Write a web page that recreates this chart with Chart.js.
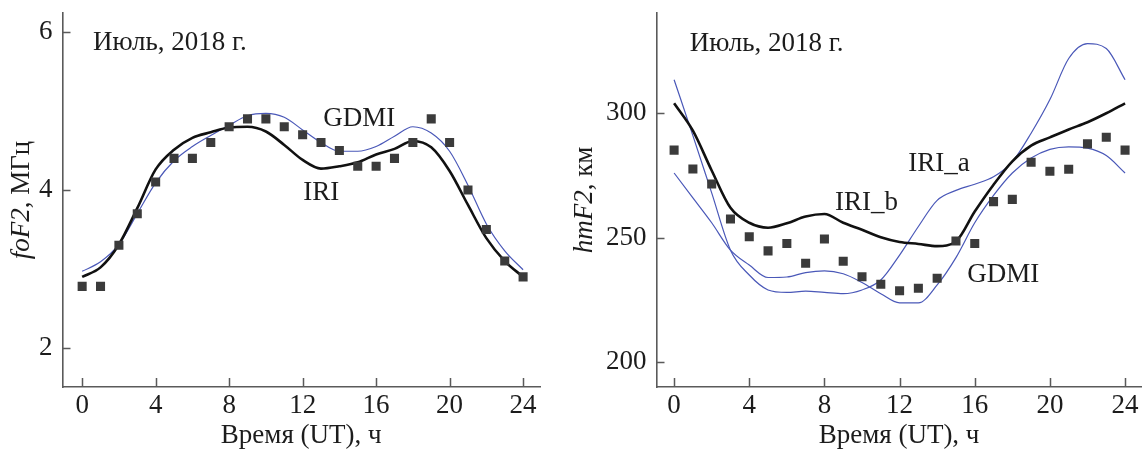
<!DOCTYPE html>
<html lang="ru">
<head>
<meta charset="utf-8">
<title>foF2 и hmF2, июль 2018</title>
<script src="https://cdn.jsdelivr.net/npm/chart.js@4.4.1/dist/chart.umd.min.js"></script>
<style>
    html, body { margin: 0; padding: 0; background: #fff; }
    #wrap { position: relative; width: 1148px; height: 452px; overflow: hidden; }
    canvas { position: absolute; top: 0; }
    #chartFoF2 { left: 0; }
    #chartHmF2 { left: 560px; }
</style>
</head>
<body>
<div id="wrap">
    <canvas id="chartFoF2" width="560" height="452"></canvas>
    <canvas id="chartHmF2" width="588" height="452"></canvas>
</div>
<script>
// Часы UT
const hours = [0, 1, 2, 3, 4, 5, 6, 7, 8, 9, 10, 11, 12, 13, 14, 15, 16, 17, 18, 19, 20, 21, 22, 23, 24];

// foF2, МГц
const foF2Obs = [2.78, 2.78, 3.3, 3.7, 4.1, 4.4, 4.4, 4.6, 4.8, 4.9, 4.9, 4.8, 4.7, 4.6, 4.5, 4.3, 4.3, 4.4, 4.6, 4.9, 4.6, 4.0, 3.5, 3.1, 2.9];
const foF2Iri = [2.90, 3.02, 3.31, 3.77, 4.26, 4.51, 4.66, 4.73, 4.79, 4.80, 4.74, 4.57, 4.38, 4.27, 4.30, 4.35, 4.45, 4.52, 4.62, 4.54, 4.24, 3.81, 3.39, 3.10, 2.90];
const foF2Gdmi = [2.97, 3.09, 3.31, 3.70, 4.09, 4.37, 4.55, 4.69, 4.82, 4.94, 4.97, 4.92, 4.76, 4.60, 4.49, 4.49, 4.55, 4.68, 4.80, 4.72, 4.49, 4.06, 3.57, 3.23, 2.99];

// hmF2, км
const hmF2Obs = [285.2, 277.6, 271.6, 257.5, 250.4, 244.7, 247.7, 239.7, 249.5, 240.5, 234.3, 231.3, 228.7, 229.7, 233.7, 248.7, 247.7, 264.5, 265.4, 280.3, 276.7, 277.5, 287.7, 290.4, 285.2];
const hmF2IriB = [304, 293, 277, 262, 256, 254, 255.8, 258.5, 259.5, 256, 253.2, 250.2, 248.3, 247.5, 246.6, 248.5, 260.5, 271.3, 280.7, 287, 290.3, 293.5, 296.4, 300, 304];
const hmF2IriA = [313.5, 291, 268, 245, 235, 229, 228, 228.5, 228, 227.5, 229, 233, 243, 254.5, 265, 269, 271.5, 274.5, 280.5, 292, 305.5, 322, 328, 326, 313.5];
const hmF2Gdmi = [276, 266, 256, 245, 239, 234, 234.2, 236, 236.7, 235.5, 232, 227.5, 223.8, 223.8, 231, 242, 256, 267, 276, 282, 285.5, 286.5, 286, 283, 276];

// Метки осей
const xTicks = [0, 4, 8, 12, 16, 20, 24];
const foF2Ticks = [2, 4, 6];
const hmF2Ticks = [200, 250, 300];

const FONT = "'Liberation Serif', 'Times New Roman', serif";
const FONT_SIZE = 27;
const TEXT_COLOR = '#1c1c1c';
const AXIS_COLOR = '#5a5a5a';
const BLUE = '#4a58b8';

const toPoints = (values) => values.map((v, i) => ({x: hours[i], y: v}));

// Засечки внутрь, подписи на поле и заголовок оси Y (курсив + прямой шрифт)
const panelText = {
    id: 'panelText',
    afterDraw(chart, args, opts) {
        const {ctx, chartArea, scales: {x, y}} = chart;
        ctx.save();

        ctx.strokeStyle = AXIS_COLOR;
        ctx.lineWidth = 1.5;
        ctx.beginPath();
        x.ticks.forEach(t => {
            const px = Math.round(x.getPixelForValue(t.value)) + 0.5;
            ctx.moveTo(px, chartArea.bottom);
            ctx.lineTo(px, chartArea.bottom - 9);
        });
        y.ticks.forEach(t => {
            const py = Math.round(y.getPixelForValue(t.value)) + 0.5;
            ctx.moveTo(chartArea.left, py);
            ctx.lineTo(chartArea.left + 8, py);
        });
        ctx.stroke();

        ctx.fillStyle = TEXT_COLOR;
        ctx.font = `${FONT_SIZE}px ${FONT}`;
        ctx.textBaseline = 'middle';
        ctx.textAlign = 'left';
        opts.labels.forEach(l => {
            ctx.fillText(l.text, x.getPixelForValue(l.x), y.getPixelForValue(l.y));
        });

        // заголовок оси Y
        ctx.translate(opts.titleX, (chartArea.top + chartArea.bottom) / 2);
        ctx.rotate(-Math.PI / 2);
        ctx.textBaseline = 'alphabetic';
        const parts = opts.yTitle.map(p => {
            ctx.font = `${p.italic ? 'italic ' : ''}${FONT_SIZE}px ${FONT}`;
            return {text: p.text, font: ctx.font, w: ctx.measureText(p.text).width};
        });
        let pos = -parts.reduce((s, p) => s + p.w, 0) / 2;
        parts.forEach(p => {
            ctx.font = p.font;
            ctx.fillText(p.text, pos, 0);
            pos += p.w;
        });
        ctx.restore();
    }
};

function makeChart(canvasId, cfg) {
    const ctx = document.getElementById(canvasId).getContext('2d');
    return new Chart(ctx, {
        type: 'line',
        data: {
            datasets: [
                {
                    data: toPoints(cfg.obs),
                    showLine: false,
                    pointStyle: 'rect',
                    pointRadius: 6.4,
                    borderWidth: 0,
                    backgroundColor: '#3b3b3b'
                },
                ...cfg.lines.map(l => ({
                    data: toPoints(l.values),
                    borderColor: l.color,
                    borderWidth: l.width,
                    pointRadius: 0,
                    cubicInterpolationMode: 'monotone',
                    fill: false
                }))
            ]
        },
        options: {
            responsive: false,
            animation: false,
            devicePixelRatio: 1,
            layout: {padding: {left: 0, right: cfg.padRight, top: 13, bottom: 0}},
            plugins: {
                legend: {display: false},
                tooltip: {enabled: false},
                panelText: {labels: cfg.labels, yTitle: cfg.yTitle, titleX: cfg.titleX}
            },
            scales: {
                x: {
                    type: 'linear',
                    min: cfg.xMin,
                    max: cfg.xMax,
                    afterBuildTicks: (scale) => { scale.ticks = xTicks.map(v => ({value: v})); },
                    afterFit: (scale) => {
                        scale.height = 65;
                        scale.paddingLeft = 0;
                        scale.paddingRight = 0;
                    },
                    grid: {display: false, drawTicks: false},
                    border: {display: true, color: AXIS_COLOR, width: 1.6},
                    ticks: {padding: 3, color: TEXT_COLOR, font: {family: FONT, size: FONT_SIZE}, maxRotation: 0},
                    title: {display: true, text: 'Время (UT), ч', color: TEXT_COLOR,
                        font: {family: FONT, size: FONT_SIZE}, padding: 0}
                },
                y: {
                    min: cfg.yMin,
                    max: cfg.yMax,
                    afterBuildTicks: (scale) => { scale.ticks = cfg.yTicks.map(v => ({value: v})); },
                    afterFit: (scale) => {
                        scale.width = cfg.axisLeft;
                        scale.paddingTop = 0;
                        scale.paddingBottom = 0;
                    },
                    grid: {display: false, drawTicks: false},
                    border: {display: true, color: AXIS_COLOR, width: 1.6},
                    ticks: {padding: 10, color: TEXT_COLOR, font: {family: FONT, size: FONT_SIZE}}
                }
            }
        },
        plugins: [panelText]
    });
}

makeChart('chartFoF2', {
    obs: foF2Obs,
    lines: [
        {values: foF2Iri, color: '#111111', width: 2.6},
        {values: foF2Gdmi, color: BLUE, width: 1.2}
    ],
    xMin: -1.07, xMax: 24.92,
    yMin: 1.506, yMax: 6.24,
    yTicks: foF2Ticks,
    axisLeft: 62.5,
    padRight: 20,
    titleX: 29,
    yTitle: [{text: 'foF2', italic: true}, {text: ', МГц', italic: false}],
    labels: [
        {text: 'Июль, 2018 г.', x: 0.59, y: 5.86},
        {text: 'GDMI', x: 13.12, y: 4.90},
        {text: 'IRI', x: 12.03, y: 3.96}
    ]
});

makeChart('chartHmF2', {
    obs: hmF2Obs,
    lines: [
        {values: hmF2IriB, color: '#111111', width: 2.6},
        {values: hmF2IriA, color: BLUE, width: 1.2},
        {values: hmF2Gdmi, color: BLUE, width: 1.2}
    ],
    xMin: -0.937, xMax: 24.88,
    yMin: 190.0, yMax: 340.3,
    yTicks: hmF2Ticks,
    axisLeft: 96.5,
    padRight: 1,
    titleX: 32,
    yTitle: [{text: 'hmF2', italic: true}, {text: ', км', italic: false}],
    labels: [
        {text: 'Июль, 2018 г.', x: 0.83, y: 327.9},
        {text: 'IRI_a', x: 12.46, y: 279.6},
        {text: 'IRI_b', x: 8.56, y: 263.9},
        {text: 'GDMI', x: 15.6, y: 235}
    ]
});
</script>
</body>
</html>
